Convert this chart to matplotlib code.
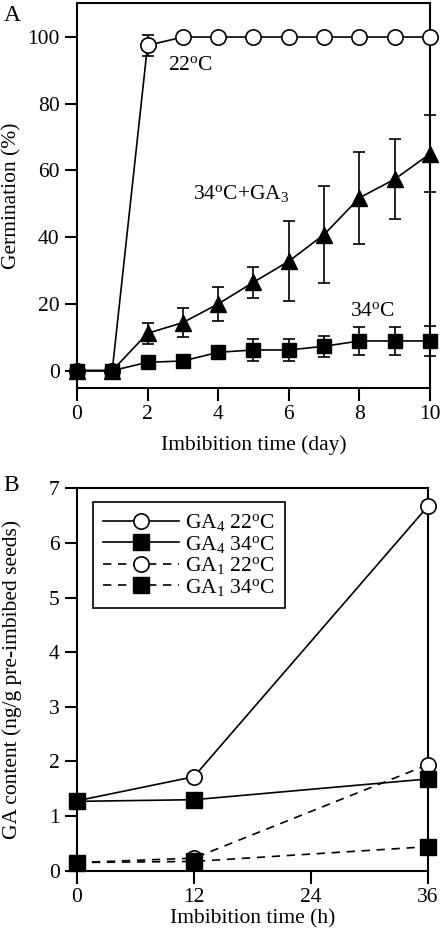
import matplotlib
matplotlib.use('Agg')
import matplotlib.pyplot as plt

plt.rcParams['font.family'] = ['Liberation Serif', 'DejaVu Serif']
plt.rcParams['mathtext.fontset'] = 'custom'
plt.rcParams['mathtext.rm'] = 'Liberation Serif'
plt.rcParams['mathtext.it'] = 'Liberation Serif:italic'
plt.rcParams['font.size'] = 15.5

# panel A: germination (%)
days = [0, 1, 2, 3, 4, 5, 6, 7, 8, 9, 10]
germ_22 = [0, 0, 97.5, 100, 100, 100, 100, 100, 100, 100, 100]
germ_22_err = [0, 0, 3.2, 0, 0, 0, 0, 0, 0, 0, 0]
germ_34ga = [0, 0, 11.2, 14.4, 20.0, 26.5, 32.8, 40.8, 51.8, 57.4, 65.0]
germ_34ga_err = [0, 0, 3.1, 4.4, 5.1, 4.7, 12.0, 14.4, 13.8, 12.0, 11.5]
germ_34 = [0, 0, 2.5, 2.9, 5.5, 6.2, 6.2, 7.3, 8.9, 8.9, 8.9]
germ_34_err = [0, 0, 0, 0, 0, 3.2, 3.2, 3.2, 4.3, 4.3, 4.5]

# panel B: GA content
hours = [0, 12, 36]
ga4_22 = [1.28, 1.72, 6.67]
ga4_34 = [1.27, 1.30, 1.68]
ga1_22 = [0.15, 0.23, 1.94]
ga1_34 = [0.15, 0.17, 0.44]

fig = plt.figure(figsize=(4.42, 9.39), dpi=100)
axA = fig.add_axes([0.174, 0.5868, 0.799, 0.41])
axB = fig.add_axes([0.174, 0.0727, 0.794, 0.4073])

lw = 1.2
ms = 11
err_kw = dict(ecolor='black', elinewidth=1.2, capsize=4, capthick=1.2)

axA.errorbar(days, germ_22, yerr=germ_22_err, fmt='-o', color='black', lw=lw,
             ms=ms, mfc='white', mec='black', mew=1.2, clip_on=False, zorder=3, **err_kw)
axA.errorbar(days, germ_34ga, yerr=germ_34ga_err, fmt='-^', color='black', lw=lw,
             ms=ms + 1, mfc='black', mec='black', clip_on=False, zorder=4, **err_kw)
axA.errorbar(days, germ_34, yerr=germ_34_err, fmt='-s', color='black', lw=lw,
             ms=ms - 0.5, mfc='black', mec='black', clip_on=False, zorder=5, **err_kw)

axA.set_xlim(0, 10)
axA.set_ylim(-5.2, 110.2)
axA.set_xticks([0, 2, 4, 6, 8, 10])
axA.set_yticks([0, 20, 40, 60, 80, 100])
axA.set_xlabel('Imbibition time (day)', labelpad=7.5)
axA.set_ylabel('Germination (%)')
axA.text(2.58, 91.6, r'22$^{\rm o}$C', ha='left', va='center')
axA.text(3.3, 53.2, r'34$^{\rm o}$C+GA$_3$', ha='left', va='center')
axA.text(7.73, 17.6, r'34$^{\rm o}$C', ha='left', va='center')
fig.text(0.008, 0.983, 'A', fontsize=17, ha='left', va='center')

axB.plot(hours, ga4_22, '-o', color='black', lw=lw, ms=ms, mfc='white', mec='black',
         mew=1.2, clip_on=False, zorder=3, label=r'GA$_4$ 22$^{\rm o}$C')
axB.plot(hours, ga4_34, '-s', color='black', lw=lw, ms=ms, mfc='black', mec='black',
         clip_on=False, zorder=4, label=r'GA$_4$ 34$^{\rm o}$C')
axB.plot(hours, ga1_22, '--o', color='black', lw=lw, ms=ms, mfc='white', mec='black',
         mew=1.2, clip_on=False, zorder=3, dashes=(5, 4), label=r'GA$_1$ 22$^{\rm o}$C')
axB.plot(hours, ga1_34, '--s', color='black', lw=lw, ms=ms, mfc='black', mec='black',
         clip_on=False, zorder=4, dashes=(5, 4), label=r'GA$_1$ 34$^{\rm o}$C')

axB.set_xlim(0, 36)
axB.set_ylim(0, 7)
axB.set_xticks([0, 12, 24, 36])
axB.set_yticks([0, 1, 2, 3, 4, 5, 6, 7])
axB.set_xlabel('Imbibition time (h)', labelpad=1.5)
axB.set_ylabel('GA content (ng/g pre-imbibed seeds)')
leg = axB.legend(loc='upper left', bbox_to_anchor=(0.045, 0.965), handlelength=3.5,
                 fancybox=False, edgecolor='black', framealpha=1, labelspacing=0.02,
                 handletextpad=0.3, borderpad=0.5, borderaxespad=0)
leg.get_frame().set_linewidth(1.2)
fig.text(0.008, 0.483, 'B', fontsize=17, ha='left', va='center')

for ax in (axA, axB):
    for s in ax.spines.values():
        s.set_linewidth(1.5)
    ax.tick_params(direction='out', length=9, width=1.5, top=False, right=False, pad=3.5)
    ax.yaxis.set_label_coords(-0.156, 0.5)

fig.savefig('out.png', dpi=100)
